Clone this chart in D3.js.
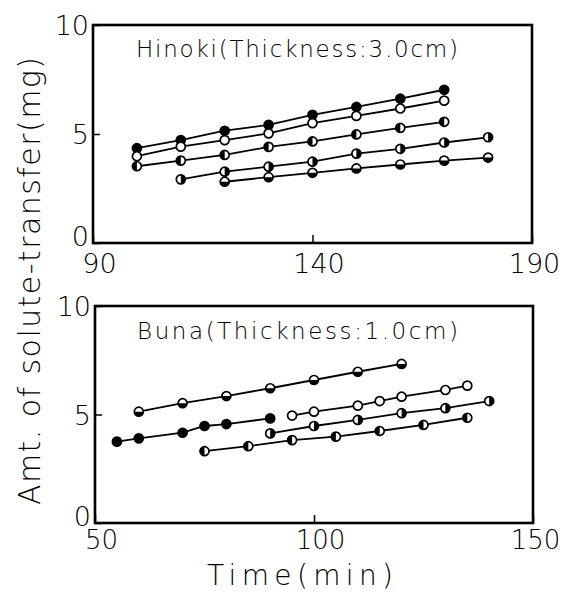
<!DOCTYPE html>
<html>
<head>
<meta charset="utf-8">
<script src="https://cdn.jsdelivr.net/npm/d3@7"></script>
<style>
  body { margin: 0; background: #fff; }
  text { font-family: "DejaVu Sans", sans-serif; font-weight: 200; fill: #000; }
</style>
</head>
<body>
<div id="chart"></div>
<script>
// ---- data ----
// Hinoki (3.0 cm), top panel
const hinokiTimeA = [100, 110, 120, 130, 140, 150, 160, 170];
const hinokiTimeB = [110, 120, 130, 140, 150, 160, 170, 180];
const hinokiTimeC = [120, 130, 140, 150, 160, 170, 180];
const hinoki1 = [4.35, 4.72, 5.15, 5.42, 5.88, 6.24, 6.62, 7.03];
const hinoki2 = [3.98, 4.42, 4.72, 5.03, 5.50, 5.83, 6.17, 6.53];
const hinoki3 = [3.52, 3.78, 4.04, 4.41, 4.66, 4.98, 5.28, 5.56];
const hinoki4 = [2.92, 3.27, 3.50, 3.73, 4.10, 4.32, 4.61, 4.85];
const hinoki5 = [2.81, 3.02, 3.22, 3.42, 3.60, 3.78, 3.92];

// Buna (1.0 cm), bottom panel
const bunaTimeA = [60, 70, 80, 90, 100, 110, 120];
const bunaTimeB = [55, 60, 70, 75, 80, 90];
const bunaTimeC = [95, 100, 110, 115, 120, 130, 135];
const bunaTimeD = [90, 100, 110, 120, 130, 140];
const bunaTimeE = [75, 85, 95, 105, 115, 125, 135];
const bunaA = [5.13, 5.52, 5.85, 6.21, 6.59, 6.97, 7.33];
const bunaB = [3.75, 3.90, 4.16, 4.47, 4.56, 4.82];
const bunaC = [4.95, 5.13, 5.41, 5.62, 5.82, 6.13, 6.33];
const bunaD = [4.13, 4.47, 4.75, 5.06, 5.29, 5.62];
const bunaE = [3.31, 3.54, 3.82, 3.98, 4.24, 4.52, 4.85];

const yTicks = [0, 5, 10];
const hinokiXTicks = [90, 140, 190];
const bunaXTicks = [50, 100, 150];

// marker kinds: filled, open, or which half is black
const zip = (xs, ys) => xs.map((t, i) => ({ t, v: ys[i] }));

const panels = [
  {
    title: "Hinoki(Thickness:3.0cm)",
    xDomain: [90, 190], xRange: [93, 532], yRange: [243, 25],
    xTicks: hinokiXTicks, titleX: 136, titleY: 57, titleLen: 322, padX: 11, xFont: 27,
    series: [
      { pts: zip(hinokiTimeA, hinoki1), kind: "full" },
      { pts: zip(hinokiTimeA, hinoki2), kind: "open" },
      { pts: zip(hinokiTimeA, hinoki3), kind: "left" },
      { pts: zip(hinokiTimeB, hinoki4), kind: "right" },
      { pts: zip(hinokiTimeC, hinoki5), kind: "bottom" },
    ],
  },
  {
    title: "Buna(Thickness:1.0cm)",
    xDomain: [50, 150], xRange: [95, 533], yRange: [523, 306],
    xTicks: bunaXTicks, titleX: 137, titleY: 339, titleLen: 321, padX: 8, xFont: 26,
    series: [
      { pts: zip(bunaTimeA, bunaA), kind: "bottom" },
      { pts: zip(bunaTimeB, bunaB), kind: "full" },
      { pts: zip(bunaTimeC, bunaC), kind: "open" },
      { pts: zip(bunaTimeD, bunaD), kind: "right" },
      { pts: zip(bunaTimeE, bunaE), kind: "left" },
    ],
  },
];

const size = { width: 565, height: 593 };
const r = 4.5;

const svg = d3.select("#chart")
  .append("svg")
  .attr("width", size.width)
  .attr("height", size.height);

// half discs for the half-filled circles (d3.arc angles: 0 = up, clockwise)
const halfArc = {
  right: d3.arc().innerRadius(0).outerRadius(r).startAngle(0).endAngle(Math.PI),
  left: d3.arc().innerRadius(0).outerRadius(r).startAngle(Math.PI).endAngle(2 * Math.PI),
  bottom: d3.arc().innerRadius(0).outerRadius(r).startAngle(Math.PI / 2).endAngle(1.5 * Math.PI),
};

panels.forEach((p) => {
  const x = d3.scaleLinear().domain(p.xDomain).range(p.xRange);
  const y = d3.scaleLinear().domain([0, 10]).range(p.yRange);

  const g = svg.append("g");

  // x axis: ticks pointing inward
  const xAxis = g.append("g")
    .attr("transform", `translate(0, ${p.yRange[0]})`)
    .call(d3.axisBottom(x).tickValues(p.xTicks).tickSizeInner(-8).tickSizeOuter(0).tickPadding(p.padX));
  xAxis.select(".domain").remove();
  xAxis.selectAll("line").attr("stroke", "#000").attr("stroke-width", 1.5);
  xAxis.selectAll("text")
    .style("font-size", p.xFont + "px")
    .attr("fill", "#000")
    .attr("dx", (d, i) => (i === 2 ? "2" : "6"));

  // y axis
  const yAxis = g.append("g")
    .attr("transform", `translate(${p.xRange[0]}, 0)`)
    .call(d3.axisLeft(y).tickValues(yTicks).tickSizeInner(-7).tickSizeOuter(0).tickPadding(4));
  yAxis.select(".domain").remove();
  yAxis.selectAll("line").attr("stroke", "#000").attr("stroke-width", 1.5);
  yAxis.selectAll("text")
    .style("font-size", "27px")
    .attr("fill", "#000")
    .attr("y", (d) => (d === 0 ? -6 : 1));

  // frame
  g.append("rect")
    .attr("x", p.xRange[0])
    .attr("y", p.yRange[1])
    .attr("width", p.xRange[1] - p.xRange[0])
    .attr("height", p.yRange[0] - p.yRange[1])
    .attr("fill", "none")
    .attr("stroke", "#000")
    .attr("stroke-width", 2.6);

  g.append("text")
    .attr("x", p.titleX)
    .attr("y", p.titleY)
    .attr("textLength", p.titleLen)
    .attr("lengthAdjust", "spacing")
    .style("font-size", "23px")
    .style("font-weight", 300)
    .text(p.title);

  const line = d3.line()
    .x((d) => x(d.t))
    .y((d) => y(d.v));

  g.selectAll(".series")
    .data(p.series)
    .join("path")
    .attr("class", "series")
    .attr("fill", "none")
    .attr("stroke", "#000")
    .attr("stroke-width", 1.8)
    .attr("d", (s) => line(s.pts));

  p.series.forEach((s) => {
    const m = g.append("g")
      .selectAll("g")
      .data(s.pts)
      .join("g")
      .attr("transform", (d) => `translate(${x(d.t)},${y(d.v)})`);
    m.append("circle")
      .attr("r", r)
      .attr("fill", s.kind === "full" ? "#000" : "#fff")
      .attr("stroke", "#000")
      .attr("stroke-width", 1.7);
    if (halfArc[s.kind]) {
      m.append("path").attr("d", halfArc[s.kind]()).attr("fill", "#000");
    }
  });
});

// shared axis titles
svg.append("text")
  .attr("transform", "translate(40, 505) rotate(-90)")
  .attr("textLength", 448)
  .attr("lengthAdjust", "spacing")
  .style("font-size", "30px")
  .text("Amt. of solute-transfer(mg)");

svg.append("text")
  .attr("x", 207)
  .attr("y", 585)
  .attr("textLength", 186)
  .attr("lengthAdjust", "spacing")
  .style("font-size", "28px")
  .text("Time(min)");
</script>
</body>
</html>
